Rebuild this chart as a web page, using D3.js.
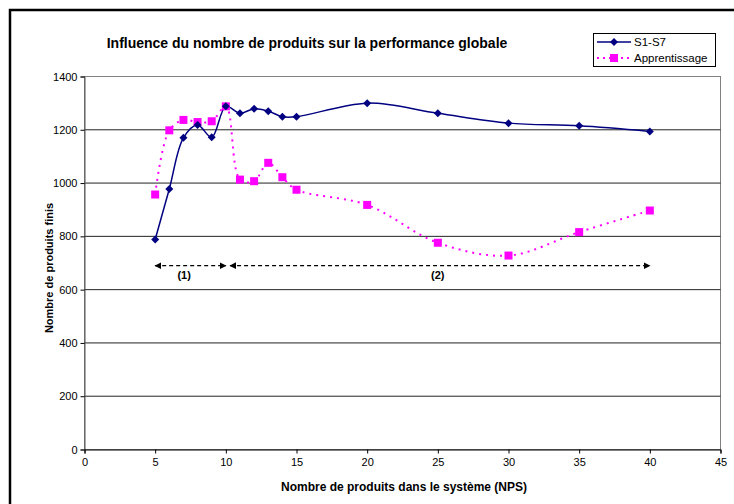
<!DOCTYPE html>
<html><head><meta charset="utf-8">
<script src="https://cdn.jsdelivr.net/npm/d3@7"></script>
<style>
html,body{margin:0;padding:0;background:#fff;overflow:hidden}
text{font-family:Arial,"Liberation Sans",sans-serif}
</style></head>
<body><svg id="c" width="734" height="504"></svg>
<script>
const nps = [5,6,7,8,9,10,11,12,13,14,15,20,25,30,35,40];
const s1s7 = [788,978,1170,1218,1172,1288,1262,1279,1270,1249,1249,1300,1262,1225,1215,1194];
const apprentissage = [957,1198,1237,1229,1232,1288,1013,1007,1076,1022,975,918,776,728,816,897];
const xTicks = [0,5,10,15,20,25,30,35,40,45];
const yTicks = [0,200,400,600,800,1000,1200,1400];
const seriesNames = ["S1-S7","Apprentissage"];
const phases = [{label:"(1)", from:5, to:10}, {label:"(2)", from:10.3, to:40}];
const phaseLevel = 690;

const svg = d3.select("#c");
const x = d3.scaleLinear().domain([0,45]).range([84.5,720.5]);
const y = d3.scaleLinear().domain([0,1400]).range([449.5,76.5]);

// outer frame
svg.append("rect").attr("x",10).attr("y",10).attr("width",760).attr("height",540)
  .attr("fill","none").attr("stroke","#000").attr("stroke-width",2.5);

// plot area border
svg.append("rect").attr("x",x(0)).attr("y",y(1400)).attr("width",x(45)-x(0)).attr("height",y(0)-y(1400))
  .attr("fill","#fff").attr("stroke","#808080").attr("stroke-width",1);

// gridlines
svg.append("g").selectAll("line").data(yTicks.filter(d=>d>0 && d<1400)).join("line")
  .attr("x1",x(0)).attr("x2",x(45)).attr("y1",d=>y(d)).attr("y2",d=>y(d))
  .attr("stroke","#222").attr("stroke-width",1);

// axes
const yAxis = d3.axisLeft(y).tickValues(yTicks).tickSize(4).tickPadding(3).tickFormat(d3.format("d"));
const gy = svg.append("g").attr("transform",`translate(${x(0)},0)`).call(yAxis);
const xAxis = d3.axisBottom(x).tickValues(xTicks).tickSize(4).tickPadding(5).tickFormat(d3.format("d"));
const gx = svg.append("g").attr("transform",`translate(0,${y(0)})`).call(xAxis);
[gx,gy].forEach(g=>{
  g.select(".domain").attr("stroke","#000");
  g.selectAll(".tick line").attr("stroke","#000");
  g.selectAll("text").attr("font-size",11).attr("fill","#000").attr("font-family","Arial, 'Liberation Sans', sans-serif");
});
gy.select(".domain").attr("stroke","#555");

// axis titles
svg.append("text").attr("x",404).attr("y",491).attr("text-anchor","middle")
  .attr("font-size",12).attr("font-weight","bold").text("Nombre de produits dans le système (NPS)");
svg.append("text").attr("transform","translate(53,268) rotate(-90)").attr("text-anchor","middle")
  .attr("font-size",11).attr("font-weight","bold").text("Nombre de produits finis");

// title
svg.append("text").attr("x",307).attr("y",48).attr("text-anchor","middle")
  .attr("font-size",14).attr("font-weight","bold").text("Influence du nombre de produits sur la performance globale");

// phase arrows
const defs = svg.append("defs");
defs.append("marker").attr("id","ah").attr("viewBox","0 0 10 10").attr("refX",9).attr("refY",5)
  .attr("markerWidth",7).attr("markerHeight",7).attr("orient","auto-start-reverse").attr("markerUnits","userSpaceOnUse")
  .append("path").attr("d","M0,0 L10,5 L0,10 z").attr("fill","#000");
const ph = svg.append("g");
phases.forEach(p=>{
  ph.append("line").attr("x1",x(p.from)).attr("x2",x(p.to)).attr("y1",y(phaseLevel)).attr("y2",y(phaseLevel))
    .attr("stroke","#000").attr("stroke-width",1.3).attr("stroke-dasharray","4,3")
    .attr("marker-start","url(#ah)").attr("marker-end","url(#ah)");
  ph.append("text").attr("x",p.label==="(1)"?x(7.05):x(25)).attr("y",y(phaseLevel)+13).attr("text-anchor","middle")
    .attr("font-size",11).attr("font-weight","bold").text(p.label);
});

// lines
const dA = nps.map((v,i)=>[v,apprentissage[i]]);
const dS = nps.map((v,i)=>[v,s1s7[i]]);
const line = d3.line().x(d=>x(d[0])).y(d=>y(d[1])).curve(d3.curveCatmullRom.alpha(0.5));
svg.append("path").attr("d",line(dA)).attr("fill","none").attr("stroke","#FF00FF")
  .attr("stroke-width",2).attr("stroke-dasharray","2,5");
svg.append("path").attr("d",line(dS)).attr("fill","none").attr("stroke","#000080").attr("stroke-width",1.5);

// markers
svg.append("g").selectAll("rect").data(dA).join("rect")
  .attr("x",d=>x(d[0])-4).attr("y",d=>y(d[1])-4).attr("width",8).attr("height",8).attr("fill","#FF00FF");
const diamond = "M0,-4 L4,0 L0,4 L-4,0 Z";
svg.append("g").selectAll("path").data(dS).join("path")
  .attr("transform",d=>`translate(${x(d[0])},${y(d[1])})`).attr("d",diamond).attr("fill","#000080");

// legend
const lg = svg.append("g");
lg.append("rect").attr("x",593.5).attr("y",33.5).attr("width",122).attr("height",33)
  .attr("fill","#fff").attr("stroke","#000").attr("stroke-width",1);
lg.append("line").attr("x1",597).attr("x2",631).attr("y1",42).attr("y2",42).attr("stroke","#000080").attr("stroke-width",1.5);
lg.append("path").attr("transform","translate(614,42)").attr("d",diamond).attr("fill","#000080");
lg.append("line").attr("x1",597).attr("x2",631).attr("y1",58).attr("y2",58).attr("stroke","#FF00FF").attr("stroke-width",2).attr("stroke-dasharray","2,4");
lg.append("rect").attr("x",610).attr("y",54).attr("width",8).attr("height",8).attr("fill","#FF00FF");
lg.append("text").attr("x",634).attr("y",46).attr("font-size",11.5).text(seriesNames[0]);
lg.append("text").attr("x",634).attr("y",62).attr("font-size",11.5).text(seriesNames[1]);
</script></body></html>
